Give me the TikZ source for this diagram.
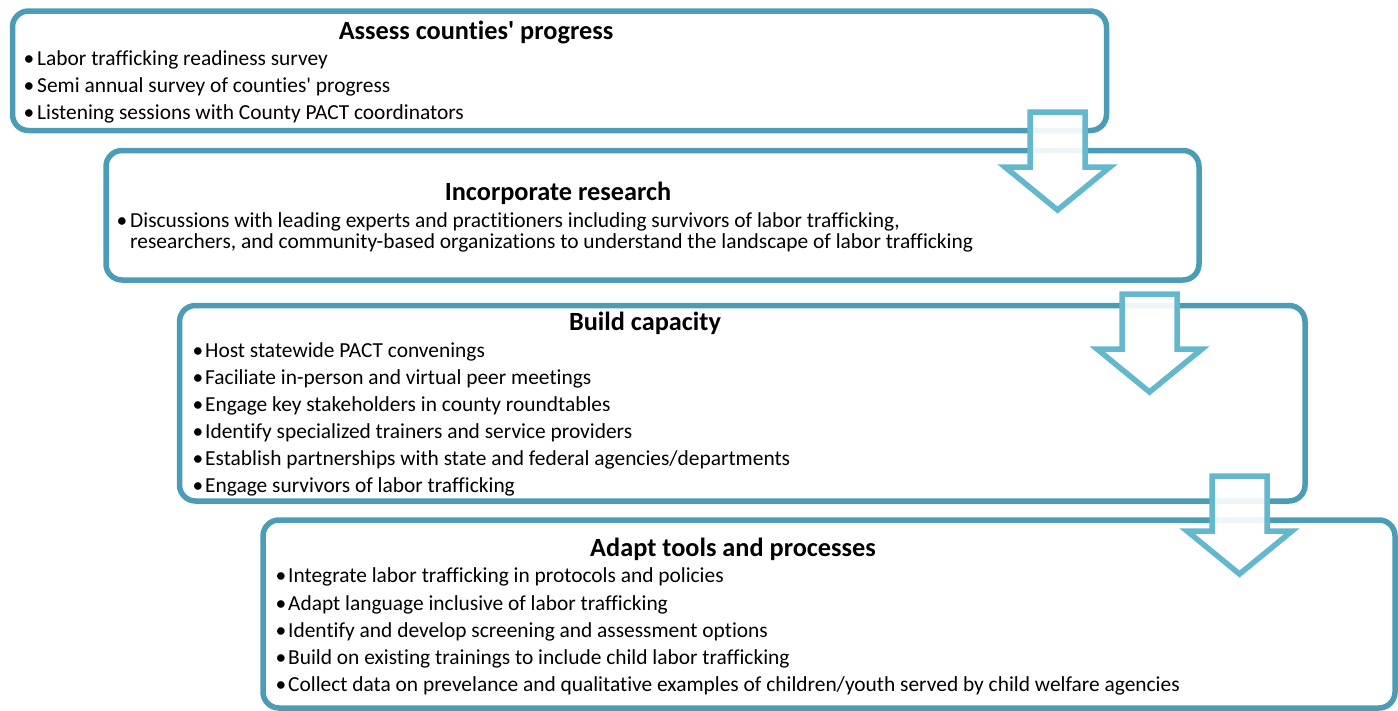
\documentclass[tikz,border=0pt]{standalone}
\usepackage{fontspec}
\setmainfont{Carlito}[Ligatures=NoCommon]
\definecolor{boxcol}{RGB}{75,157,181}
\definecolor{arrowcol}{RGB}{99,184,205}
\newcommand{\dnarrow}[2]{%
  \draw[arrowstyle] (#1,#2) -- ++(55,0) -- ++(0,55) -- ++(25,0) -- ++(-52.5,43) -- ++(-52.5,-43) -- ++(25,0) -- cycle;}
\begin{document}
\begin{tikzpicture}[x=1pt,y=-1pt,
  stepbox/.style={draw=boxcol,line width=5.5pt,rounded corners=16pt,fill=white},
  arrowstyle/.style={draw=arrowcol,line width=5.5pt,line join=miter,fill=white,fill opacity=0.9},
  ttl/.style={inner sep=0pt,anchor=base,font=\fontsize{26.3}{28}\selectfont\bfseries},
  itm/.style={inner sep=0pt,anchor=base west,font=\fontsize{21.4}{21}\selectfont},
  bul/.style={inner sep=0pt,anchor=base,font=\fontsize{21.4}{21}\selectfont}]
\useasboundingbox (0,0) rectangle (1398,710);
% boxes
\draw[stepbox] (12.5,11) rectangle (1106.5,130.5);
\draw[stepbox] (106,150.5) rectangle (1199,280);
\draw[stepbox] (179.5,305.5) rectangle (1305,501);
\draw[stepbox] (263,520) rectangle (1395,708);
% box 1
\node[ttl] (t1) at (476,39) {Assess counties\textquotesingle{} progress};
\node[bul] (b11) at (29,65) {\textbullet};
\node[itm] (i11) at (37,65) {Labor trafficking readiness survey};
\node[bul] (b12) at (29,92) {\textbullet};
\node[itm] (i12) at (37,92) {Semi annual survey of counties\textquotesingle{} progress};
\node[bul] (b13) at (29,119) {\textbullet};
\node[itm] (i13) at (37,119) {Listening sessions with County PACT coordinators};
% box 2
\node[ttl] (t2) at (558,200.5) {Incorporate research};
\node[bul] (b21) at (122,227) {\textbullet};
\node[itm] (i21) at (130,227) {Discussions with leading experts and practitioners including survivors of labor trafficking,};
\node[itm] (i22) at (130,248.5) {researchers, and community-based organizations to understand the landscape of labor trafficking};
% box 3
\node[ttl] (t3) at (645,330) {Build capacity};
\node[bul] (b31) at (198,357) {\textbullet};
\node[itm] (i31) at (205,357) {Host statewide PACT convenings};
\node[bul] (b32) at (198,384) {\textbullet};
\node[itm] (i32) at (205,384) {Faciliate in-person and virtual peer meetings};
\node[bul] (b33) at (198,411) {\textbullet};
\node[itm] (i33) at (205,411) {Engage key stakeholders in county roundtables};
\node[bul] (b34) at (198,438) {\textbullet};
\node[itm] (i34) at (205,438) {Identify specialized trainers and service providers};
\node[bul] (b35) at (198,465) {\textbullet};
\node[itm] (i35) at (205,465) {Establish partnerships with state and federal agencies/departments};
\node[bul] (b36) at (198,492) {\textbullet};
\node[itm] (i36) at (205,492) {Engage survivors of labor trafficking};
% box 4
\node[ttl] (t4) at (733,556.5) {Adapt tools and processes};
\node[bul] (b41) at (281,582) {\textbullet};
\node[itm] (i41) at (288,582) {Integrate labor trafficking in protocols and policies};
\node[bul] (b42) at (281,610) {\textbullet};
\node[itm] (i42) at (288,610) {Adapt language inclusive of labor trafficking};
\node[bul] (b43) at (281,637) {\textbullet};
\node[itm] (i43) at (288,637) {Identify and develop screening and assessment options};
\node[bul] (b44) at (281,664) {\textbullet};
\node[itm] (i44) at (288,664) {Build on existing trainings to include child labor trafficking};
\node[bul] (b45) at (281,691) {\textbullet};
\node[itm] (i45) at (288,691) {Collect data on prevelance and qualitative examples of children/youth served by child welfare agencies};
% arrows
\dnarrow{1030}{112}
\dnarrow{1122}{294}
\dnarrow{1212}{476}
\end{tikzpicture}
\end{document}
